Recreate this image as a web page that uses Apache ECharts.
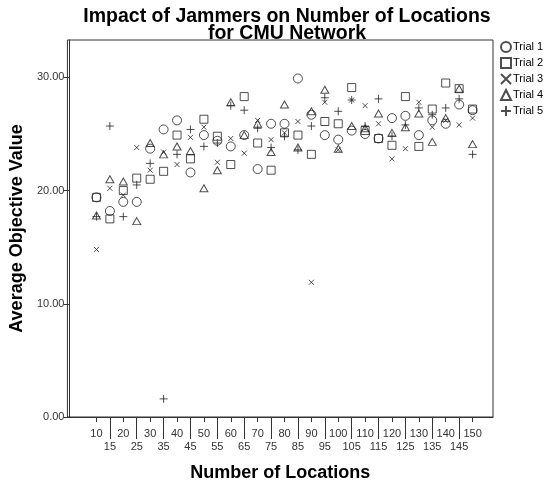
<!DOCTYPE html>
<html>
<head>
<meta charset="utf-8">
<script src="https://cdn.jsdelivr.net/npm/echarts@6/dist/echarts.min.js"></script>
<style>
html,body{margin:0;padding:0;background:#fff;}
#chart{width:555px;height:487px;}
</style>
</head>
<body>
<div id="chart"></div>
<script>
const categories = [10,15,20,25,30,35,40,45,50,55,60,65,70,75,80,85,90,95,100,105,110,115,120,125,130,135,140,145,150];
const trial1 = [19.4,18.2,19.0,19.0,23.7,25.4,26.2,21.6,24.9,24.4,23.9,24.9,21.9,25.9,25.9,29.9,26.7,24.9,24.5,25.3,25.0,24.6,26.4,26.6,24.9,26.2,25.9,27.6,27.1];
const trial2 = [19.4,17.5,20.0,21.1,21.0,21.7,24.9,22.8,26.3,24.8,22.3,28.3,24.2,21.8,25.1,24.9,23.2,26.1,25.9,29.1,25.3,24.6,24.0,28.3,23.9,27.2,29.5,29.0,27.2];
const trial3 = [14.8,20.2,19.6,23.8,21.8,23.4,22.3,24.7,25.6,22.5,24.6,23.3,26.2,24.5,25.1,26.1,11.9,27.8,23.6,28.0,27.5,25.9,22.8,23.7,27.8,25.6,26.2,25.8,26.4];
const trial4 = [17.8,21.0,20.8,17.3,24.2,23.2,23.9,23.5,20.2,21.8,27.8,24.9,25.9,23.4,27.6,23.8,27.0,28.9,23.7,25.7,25.5,26.8,25.1,25.6,26.8,24.3,26.4,29.0,24.1];
const trial5 = [17.7,25.7,17.7,20.5,22.4,1.6,23.2,25.4,23.9,24.2,27.5,27.1,25.5,23.8,24.8,23.6,25.7,28.2,27.0,28.0,25.7,28.1,24.8,25.8,27.3,26.7,27.3,28.1,23.2];
const seriesNames = ['Trial 1','Trial 2','Trial 3','Trial 4','Trial 5'];
const yTickValues = [0,10,20,30];
const xUpperLabels = [10,20,30,40,50,60,70,80,90,100,110,120,130,140,150];
const xLowerLabels = [15,25,35,45,55,65,75,85,95,105,115,125,135,145];

const FONT = '"Liberation Sans", Arial, sans-serif';
const INK = '#333';
const xMin = -0.8, xMax = 157.6;

const symbols = [
  {symbol:'circle', size:9},
  {symbol:'rect', size:8},
  {symbol:'path://M0,0L10,10M0,10L10,0', size:5},
  {symbol:'triangle', size:[8,7]},
  {symbol:'path://M5,0L5,10M0,5L10,5', size:8}
];
const allTrials = [trial1, trial2, trial3, trial4, trial5];

const series = allTrials.map((vals, k) => ({
  name: seriesNames[k],
  type: 'scatter',
  xAxisIndex: 0,
  yAxisIndex: 0,
  symbol: symbols[k].symbol,
  symbolSize: symbols[k].size,
  itemStyle: {color: 'rgba(0,0,0,0)', borderColor: '#222', borderWidth: 1},
  emphasis: {disabled: true},
  data: categories.map((c, i) => [c, vals[i]])
}));

const chart = echarts.init(document.getElementById('chart'), null, {renderer: 'canvas'});
chart.setOption({
  animation: false,
  backgroundColor: '#fff',
  title: {
    text: 'Impact of Jammers on Number of Locations\nfor CMU Network',
    left: 282, textAlign: 'center', top: 3,
    textStyle: {fontFamily: FONT, fontSize: 19.5, fontWeight: 'bold', color: '#000', lineHeight: 17}
  },
  legend: {
    orient: 'vertical', left: 500, top: 41, padding: 0,
    itemWidth: 10, itemHeight: 10, itemGap: 4,
    textStyle: {fontFamily: FONT, fontSize: 11, color: '#000', padding: [0,0,0,-3]},
    data: seriesNames.map((n, k) => ({name: n, icon: symbols[k].symbol}))
  },
  grid: {left: 67, right: 62, top: 40, bottom: 69, show: true, borderColor: '#333', borderWidth: 1, backgroundColor: 'transparent'},
  xAxis: [
    {
      type: 'value', min: xMin, max: xMax, position: 'bottom',
      name: 'Number of Locations', nameLocation: 'middle', nameGap: 47,
      nameTextStyle: {fontFamily: FONT, fontSize: 18, fontWeight: 'bold', color: '#000'},
      axisLine: {show: true, lineStyle: {color: '#333', width: 1}},
      axisTick: {show: true, length: 5, customValues: xUpperLabels, lineStyle: {color: '#333'}},
      axisLabel: {customValues: xUpperLabels, fontFamily: FONT, fontSize: 11, color: INK, margin: 11},
      splitLine: {show: false}
    },
    {
      type: 'value', min: xMin, max: xMax, position: 'bottom',
      axisLine: {show: false},
      axisTick: {show: true, length: 22, customValues: xLowerLabels, lineStyle: {color: '#333'}},
      axisLabel: {customValues: xLowerLabels, fontFamily: FONT, fontSize: 11, color: INK, margin: 24},
      splitLine: {show: false}
    }
  ],
  yAxis: {
    type: 'value', min: 0, max: 33.3,
    name: 'Average Objective Value', nameLocation: 'middle', nameGap: 40,
    nameTextStyle: {fontFamily: FONT, fontSize: 18, fontWeight: 'bold', color: '#000'},
    axisLine: {show: true, lineStyle: {color: '#333', width: 1}},
    axisTick: {show: true, length: 6, customValues: yTickValues, lineStyle: {color: '#333'}},
    axisLabel: {customValues: yTickValues, fontFamily: FONT, fontSize: 11, color: INK, margin: 3,
      formatter: v => v.toFixed(2)},
    splitLine: {show: false}
  },
  series: series
});
</script>
</body>
</html>
